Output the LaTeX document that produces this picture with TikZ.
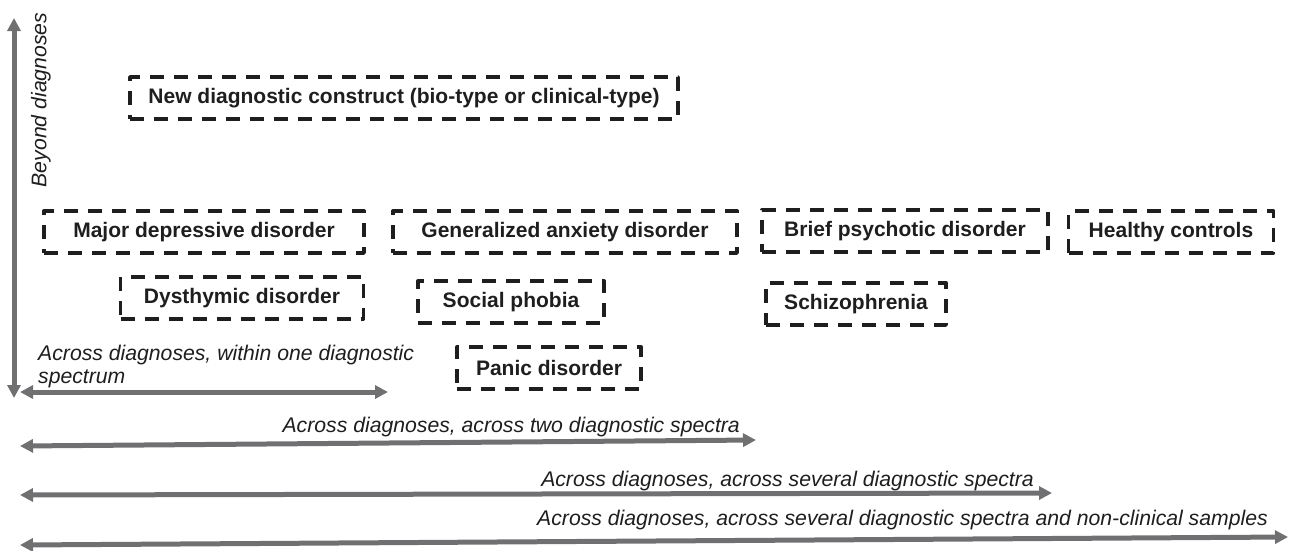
\documentclass[tikz,border=0pt]{standalone}
\usepackage{fontspec}
\setmainfont{Liberation Sans}
\usetikzlibrary{arrows.meta}
\definecolor{axisgray}{RGB}{112,112,114}
\definecolor{ink}{RGB}{30,30,30}
\begin{document}
\begin{tikzpicture}[x=1pt,y=-1pt,>={Triangle[length=13pt,width=13pt]},line join=round,
	box/.style={draw=ink,line width=3.4pt,dash pattern=on 14pt off 10pt,minimum height=42pt,inner sep=0pt,text=ink,font=\fontsize{21}{24}\selectfont\bfseries},
	axis/.style={draw=axisgray,line width=5pt,<->},
	lbl/.style={inner sep=0pt,text=ink,font=\fontsize{21.2}{23}\selectfont\itshape}]
	\useasboundingbox (0,0) rectangle (1290,550);
	% dashed boxes: name/x/y/width/text
	\foreach \n/\x/\y/\w/\t in {new/404/98/548/New diagnostic construct (bio-type or clinical-type),
		mdd/204/232/320/Major depressive disorder,gad/565/232/344/Generalized anxiety disorder,
		bpd/905/231/286/Brief psychotic disorder,hc/1171/232/205/Healthy controls,
		dys/242/298/243/Dysthymic disorder,soc/511/302/186/Social phobia,
		sch/856/304/180/Schizophrenia,pan/549/368/184/Panic disorder}
	\node[box,minimum width=\w pt] (\n) at (\x,\y) {\t};
	% axes
	\path (14,398) coordinate (vb) (14,18) coordinate (vt);
	\draw[axis] (vb)--(vt);
	\foreach \i/\yl/\xr/\yr in {1/392/388/392,2/446/756/440,3/495/1052/493,4/545/1288/537}
	{\path (20,\yl) coordinate (L\i) (\xr,\yr) coordinate (R\i);
		\draw[axis] (L\i)--(R\i);
	}
	\node[lbl,rotate=90] (beyond) at (41,100) {Beyond diagnoses};
	\node[lbl,anchor=north west,align=left] (within) at (38,345) {Across diagnoses, within one diagnostic\\spectrum};
	\node[lbl,anchor=base east] (two) at (740,432) {Across diagnoses, across two diagnostic spectra};
	\node[lbl,anchor=base east] (several) at (1034,486) {Across diagnoses, across several diagnostic spectra};
	\node[lbl,anchor=base east] (nonclin) at (1268,525) {Across diagnoses, across several diagnostic spectra and non-clinical samples};
\end{tikzpicture}
\end{document}
